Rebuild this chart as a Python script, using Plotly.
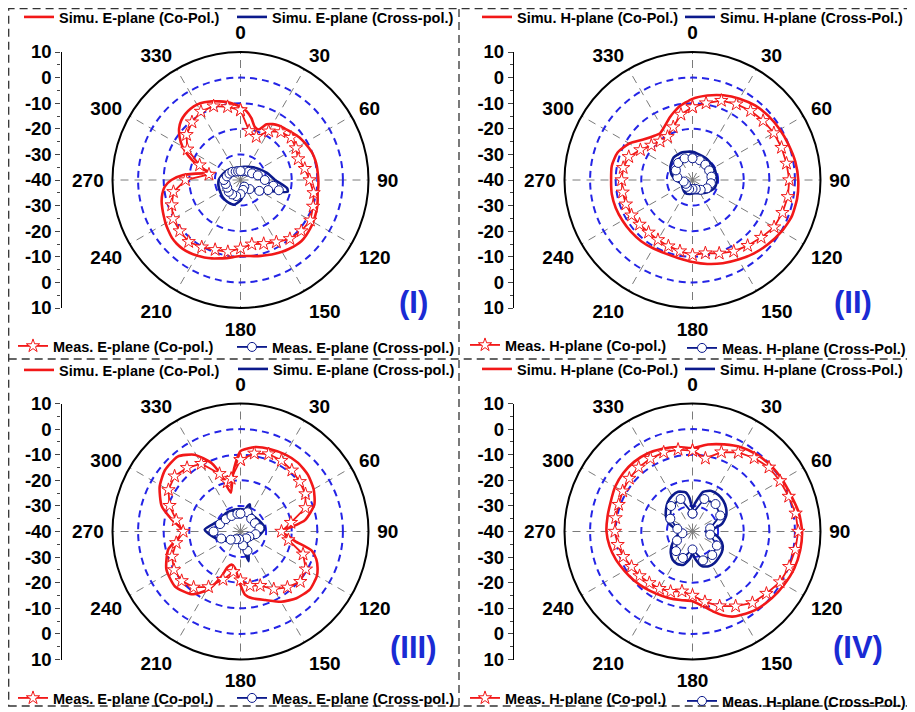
import plotly.graph_objects as go

# window is 915x712; the page body has an 8px margin, so the figure is 907x704 and
# all layout positions below are given in window pixels and shifted by OFF.
WIN_W, WIN_H = 915, 712
OFF = 8
W, H = WIN_W - OFF, WIN_H - OFF
FONT = "Liberation Sans, Arial, Helvetica, sans-serif"
RED = "#f21818"
NAVY = "#0c1a8c"
GRIDBLUE = "#2424e6"
GRAY = "#7a7a7a"
LABELBLUE = "#1a2bd4"

ANGLE_TICKS = list(range(0, 360, 30))
ANGLE_LABELS = [str(a) for a in ANGLE_TICKS]
RADIAL_RANGE = [-40, 10]
RADIAL_GRID = [-30, -20, -10, 0]
LEFT_TICKVALS = list(range(-50, 51, 10))
LEFT_TICKTEXT = [str(abs(v) - 40) for v in LEFT_TICKVALS]

# ---------------- Panel I : E-plane ----------------
P1_SIM_CO = [(0,-11.4),(5,-13),(10,-15.5),(15,-18.5),(20,-19),(25,-16),(30,-14.8),(35,-14),(40,-13.5),
             (45,-13),(50,-12.3),(55,-11.5),(60,-11),(65,-10.5),(70,-10),(75,-9.8),(80,-9.7),(85,-9.7),
             (90,-9.6),(95,-9.5),(100,-9.4),(105,-8.8),(110,-8.2),(115,-7.7),(120,-7.2),(125,-6.8),
             (130,-6.5),(135,-6.3),(140,-6.6),(145,-7.1),(150,-7.6),(155,-8.2),(160,-8.8),(165,-9.3),
             (170,-9.8),(175,-10.2),(180,-10.3),(185,-9.8),(190,-9),(195,-8.3),(200,-7.4),(205,-6.6),
             (210,-5.9),(215,-5.3),(220,-4.9),(225,-4.8),(230,-5),(235,-5.6),(240,-6.2),(245,-6.9),
             (250,-7.5),(255,-8.1),(260,-9),(265,-10.3),(270,-13),(275,-17.5),(280,-25),(283,-28.5),
             (286,-25.5),(290,-21.5),(295,-17.5),(300,-13.8),(305,-11),(310,-8.7),(315,-7.2),(320,-6.4),
             (325,-6),(330,-6),(335,-6.5),(340,-7.3),(345,-8.2),(350,-9.1),(355,-10.2),(360,-11.4)]
P1_SIM_X = [(0,-35),(15,-34.7),(30,-34),(45,-33),(60,-31.5),(75,-29.3),(90,-26.5),(100,-21.5),(104,-21),
            (108,-25.5),(120,-32),(135,-34.5),(150,-35.5),(165,-34.5),(180,-32),(195,-30),(210,-30),
            (225,-30.3),(240,-30.8),(255,-31.1),(270,-31.5),(285,-32.5),(300,-33.3),(315,-34),(330,-34.8),
            (345,-35),(360,-35)]
P1_MEAS_CO = [(0,-12.7),(10,-20.5),(20,-22),(30,-18),(40,-15.5),(50,-14.2),(60,-15),(70,-16),(80,-14.5),
              (90,-13),(100,-11),(110,-9.8),(120,-8.5),(130,-9),(140,-10),(150,-12),(160,-13.5),(170,-14.5),
              (180,-13.3),(190,-11.5),(200,-11),(210,-9.7),(220,-8.5),(230,-9),(240,-9.6),(250,-11.4),
              (260,-13.4),(270,-18.5),(280,-27.5),(290,-23),(300,-16),(310,-12.5),(320,-10.5),(330,-9.1),
              (340,-9.3),(350,-11),(360,-12.7)]
P1_MEAS_X = [(0,-36.5),(15,-36.5),(30,-36),(45,-35.5),(60,-34.8),(75,-33),(90,-30.5),(100,-27),(105,-24.5),
             (110,-28.5),(120,-31.5),(135,-35),(150,-37),(165,-36),(180,-34.5),(195,-33.5),(210,-33.5),
             (225,-33.5),(240,-34),(255,-34),(270,-33.5),(285,-34.5),(300,-35),(315,-35.5),(330,-36.2),
             (345,-36.5),(360,-36.5)]

# ---------------- Panel II : H-plane ----------------
P2_SIM_CO = [(0,-8.3),(10,-6.5),(20,-4.8),(30,-3.3),(40,-2),(50,-1.2),(60,-0.6),(70,0),(80,0.8),(90,1.3),
             (100,1.5),(110,1.3),(120,0.2),(130,-1.2),(140,-2.6),(150,-4.1),(160,-5.4),(170,-6.7),(180,-8),
             (190,-9),(200,-9.4),(210,-9.2),(220,-8.8),(230,-8.6),(240,-8.4),(250,-8.1),(260,-8),(270,-8.2),
             (280,-8),(290,-8.8),(300,-11.5),(310,-15.3),(320,-17.3),(325,-17.8),(330,-17),(340,-14),
             (345,-12.4),(350,-10.8),(360,-8.3)]
P2_SIM_X = [(0,-29),(30,-30),(60,-30.3),(90,-30.4),(110,-30.8),(130,-32.5),(150,-34),(170,-34.8),(190,-34.5),
            (210,-34.2),(230,-35),(250,-35.5),(270,-33.5),(285,-31.5),(300,-30),(320,-28.5),(340,-28.5),
            (360,-29)]
P2_MEAS_CO = [(0,-11.5),(10,-9.5),(20,-7),(30,-5.8),(40,-4.7),(50,-4),(60,-3.3),(70,-3),(80,-2.7),(90,-2.2),
              (100,-2.2),(110,-2.6),(120,-3.2),(130,-5),(140,-6.5),(150,-7.8),(160,-9.5),(170,-11),(180,-10.7),
              (190,-11.8),(200,-12.5),(210,-13),(220,-13.3),(230,-13),(240,-12.5),(250,-12.3),(260,-12.3),
              (270,-12.3),(280,-12.5),(290,-13.5),(300,-16.5),(310,-19),(320,-20.3),(330,-20.5),(340,-18),
              (350,-14),(360,-11.5)]
P2_MEAS_X = [(0,-31.5),(20,-31.8),(40,-32.2),(60,-32.5),(80,-32.5),(100,-32.7),(120,-33.5),(140,-35),
             (160,-36.3),(180,-36.5),(200,-36.2),(220,-36.5),(240,-37),(260,-36.5),(280,-34),(300,-32.5),
             (320,-31.3),(340,-31),(360,-31.5)]

# ---------------- Panel III : E-plane ----------------
P3_SIM_CO = [(0,-8.6),(10,-6.5),(20,-5.8),(30,-5.2),(40,-5),(50,-5.6),(60,-7),(70,-9.3),(80,-14.4),(85,-20),
             (90,-24.5),(95,-21.5),(100,-18.4),(105,-11.2),(110,-8.5),(115,-6.8),(120,-5.5),(130,-4.7),
             (140,-6),(150,-8.3),(160,-11.5),(170,-13.5),(176,-15.3),(181,-20),(189,-25.7),(195,-26.6),
             (200,-25.2),(203,-21),(209,-14),(218,-8.9),(230,-6.6),(243,-7.5),(256,-10.9),(264,-15.5),
             (270,-17.6),(275,-15.8),(280,-12.7),(288,-7.6),(299,-3.9),(309,-2),(320,-1.8),(329,-5),
             (337,-10.9),(341,-16.5),(346,-24.4),(352,-18),(356,-13),(360,-8.6)]
P3_SIM_X = [(0,-31.2),(11,-31.3),(16,-29.5),(19,-28.8),(23,-30.5),(33,-32),(56,-31.7),(81,-30.4),(105,-32.8),
            (130,-35.2),(152,-35),(160,-31),(165,-28),(170,-33),(180,-36),(200,-36),(232,-33.9),(256,-29.7),
            (273,-26),(295,-30.4),(323,-30.9),(346,-31.1),(360,-31.2)]
P3_MEAS_CO = [(0,-12),(10,-9),(20,-7.8),(30,-8),(40,-8.8),(50,-9.8),(60,-10.7),(70,-13),(80,-20),(90,-24),
              (100,-21),(110,-14),(120,-10.5),(130,-9.5),(140,-11.5),(150,-14),(160,-17.5),(170,-18.5),
              (180,-21),(190,-24),(200,-20),(210,-15),(220,-11.5),(230,-10),(240,-10),(250,-11.5),(260,-14.5),
              (270,-17.6),(280,-14.5),(290,-10.5),(300,-7.5),(310,-6.4),(320,-7.5),(330,-9.4),(340,-16),
              (345,-20),(350,-19),(360,-12)]
P3_MEAS_X = [(0,-33),(20,-32),(40,-33.5),(60,-33.5),(80,-32.5),(100,-34),(120,-36),(140,-36.5),(160,-32),
             (170,-34.5),(190,-37),(210,-36.5),(230,-35),(250,-32),(270,-29.5),(290,-31.5),(310,-32.5),
             (330,-33),(350,-33),(360,-33)]

# ---------------- Panel IV : H-plane ----------------
P4_SIM_CO = [(0,-7.4),(10,-5.5),(20,-3.8),(30,-2),(40,-0.8),(50,0),(60,0.5),(70,1),(80,2.2),(90,2.8),
             (100,2.7),(110,2.3),(120,1.4),(130,0.5),(140,-0.6),(150,-2.3),(155,-3.3),(160,-5.2),(165,-7.5),
             (170,-9.8),(175,-11.5),(180,-12.8),(190,-12.8),(200,-12.4),(210,-11.9),(220,-11.1),(230,-10.2),
             (240,-9.3),(250,-8.1),(260,-7.1),(270,-6.4),(280,-6.3),(290,-6),(300,-5.1),(310,-4.6),(320,-4.5),
             (330,-4.8),(340,-5.6),(350,-6.5),(360,-7.4)]
P4_SIM_X = [(0,-31),(5,-29),(15,-24),(25,-22.5),(35,-22.5),(45,-23),(55,-24),(65,-25.5),(75,-28),(85,-33),
            (90,-35),(95,-32),(105,-29),(115,-27),(125,-26),(135,-25.5),(145,-25),(155,-25),(165,-26),
            (175,-29.5),(180,-31.5),(185,-29.5),(195,-26.5),(205,-26),(215,-26.5),(225,-28),(235,-30),
            (250,-33),(265,-35),(270,-35.5),(280,-33),(290,-30),(300,-28),(310,-26.5),(320,-25),(330,-24),
            (340,-23.5),(350,-24.5),(355,-27),(360,-31)]
P4_MEAS_CO = [(0,-8.4),(10,-11),(20,-7),(30,-4.3),(40,-2.5),(50,-1),(60,-0.5),(70,0),(80,0.9),(90,1.3),
              (100,0.8),(110,0.2),(120,-0.5),(130,-2.3),(140,-3.6),(150,-6.3),(160,-9),(170,-12.1),(180,-15),
              (190,-16.3),(200,-15),(210,-14.2),(220,-13.8),(230,-13),(240,-12.5),(250,-11.2),(260,-10.3),
              (270,-9.7),(280,-9.5),(290,-9.3),(300,-8.5),(310,-7.8),(320,-7.3),(330,-7.1),(340,-7.1),
              (350,-7.5),(360,-8.4)]
P4_MEAS_X = [(0,-33),(20,-26.5),(40,-26),(60,-27.5),(80,-33),(100,-33),(120,-29),(140,-28),(160,-28),
             (180,-33),(200,-29),(220,-30),(240,-33),(260,-36),(280,-34),(300,-30),(320,-27),(340,-26.5),
             (360,-33)]

E_NAMES = ["Simu. E-plane (Co-Pol.)", "Simu. E-plane (Cross-pol.)",
           "Meas. E-plane (Co-pol.)", "Meas. E-plane (Cross-pol.)"]
H_NAMES = ["Simu. H-plane (Co-Pol.)", "Simu. H-plane (Cross-Pol.)",
           "Meas. H-plane (Co-pol.)", "Meas. H-plane (Cross-Pol.)"]
PANEL_LABELS = ["(I)", "(II)", "(III)", "(IV)"]

# geometry in window pixels (layout only); leg = legend sample start (x, y) for the 4 series
R = 128
PANELS = [
    dict(data=(P1_SIM_CO, P1_SIM_X, P1_MEAS_CO, P1_MEAS_X), names=E_NAMES, cx=240.5, cy=180, axx=61.5,
         lab=(413, 303), leg=[(27, 17), (240, 17), (21, 346), (240, 347)]),
    dict(data=(P2_SIM_CO, P2_SIM_X, P2_MEAS_CO, P2_MEAS_X), names=H_NAMES, cx=692.5, cy=180, axx=514,
         lab=(853, 303), leg=[(485, 17), (688, 17), (473, 345), (690, 348)]),
    dict(data=(P3_SIM_CO, P3_SIM_X, P3_MEAS_CO, P3_MEAS_X), names=E_NAMES, cx=240.5, cy=531.5, axx=61.5,
         lab=(413, 647), leg=[(27, 370), (241, 369), (21, 698), (240, 698)]),
    dict(data=(P4_SIM_CO, P4_SIM_X, P4_MEAS_CO, P4_MEAS_X), names=H_NAMES, cx=692.5, cy=531.5, axx=514,
         lab=(858, 647), leg=[(485, 369), (688, 369), (473, 698), (690, 701)]),
]


def fx(x):
    return (x - OFF) / W


def fy(y):
    return 1 - (y - OFF) / H


def th(d):
    return [a for a, _ in d]


def rr(d):
    return [v for _, v in d]


fig = go.Figure()
layout = dict(width=W, height=H, margin=dict(l=0, r=0, t=0, b=0, autoexpand=False), paper_bgcolor="white",
              plot_bgcolor="white", font=dict(family=FONT, color="black"), annotations=[], shapes=[])

for i, p in enumerate(PANELS):
    n = i + 1
    pk = "polar" if n == 1 else f"polar{n}"
    lkeys = []
    for j in range(4):
        k = 4 * i + j + 1
        lkeys.append("legend" if k == 1 else f"legend{k}")
    sim_co, sim_x, meas_co, meas_x = p["data"]
    names = p["names"]

    fig.add_trace(go.Scatterpolar(theta=th(sim_co), r=rr(sim_co), mode="lines", name=names[0],
                                  line=dict(color=RED, width=2.6, shape="spline", smoothing=0.6),
                                  subplot=pk, legend=lkeys[0]))
    fig.add_trace(go.Scatterpolar(theta=th(sim_x), r=rr(sim_x), mode="lines", name=names[1],
                                  line=dict(color=NAVY, width=2.6, shape="spline", smoothing=0.6),
                                  subplot=pk, legend=lkeys[1]))
    fig.add_trace(go.Scatterpolar(theta=th(meas_co), r=rr(meas_co), mode="lines+markers", name=names[2],
                                  line=dict(color=RED, width=1.8),
                                  marker=dict(symbol="star", size=10, color="white",
                                              line=dict(color=RED, width=1)),
                                  subplot=pk, legend=lkeys[2]))
    fig.add_trace(go.Scatterpolar(theta=th(meas_x), r=rr(meas_x), mode="lines+markers", name=names[3],
                                  line=dict(color=NAVY, width=1.8),
                                  marker=dict(symbol="circle", size=9, color="white",
                                              line=dict(color=NAVY, width=1)),
                                  subplot=pk, legend=lkeys[3]))

    layout[pk] = dict(
        domain=dict(x=[fx(p["cx"] - R), fx(p["cx"] + R)], y=[fy(p["cy"] + R), fy(p["cy"] - R)]),
        bgcolor="white",
        radialaxis=dict(range=RADIAL_RANGE, tickmode="array", tickvals=RADIAL_GRID, showticklabels=False,
                        ticks="", showline=False, gridcolor=GRIDBLUE, griddash="7px,5px", gridwidth=1.6),
        angularaxis=dict(rotation=90, direction="clockwise", tickmode="array", tickvals=ANGLE_TICKS,
                         ticktext=ANGLE_LABELS, showline=True, linecolor="black", linewidth=2,
                         gridcolor=GRAY, griddash="8px,6px", gridwidth=1.4, ticks="outside", ticklen=4,
                         tickcolor="rgba(0,0,0,0)",
                         tickfont=dict(family=FONT, size=19, color="black", weight="bold")),
    )

    # left-hand dB scale (an invisible trace carries the subplot so the axis is drawn)
    xk = "xaxis" if n == 1 else f"xaxis{n}"
    yk = "yaxis" if n == 1 else f"yaxis{n}"
    xa = "x" if n == 1 else f"x{n}"
    ya = "y" if n == 1 else f"y{n}"
    fig.add_trace(go.Scatter(x=[0.5] * len(LEFT_TICKVALS), y=LEFT_TICKVALS, mode="markers",
                             marker=dict(opacity=0), showlegend=False, hoverinfo="skip",
                             xaxis=xa, yaxis=ya))
    layout[xk] = dict(domain=[fx(p["axx"]), fx(p["axx"] + 1)], visible=False, anchor=ya, range=[0, 1],
                      fixedrange=True)
    layout[yk] = dict(domain=[fy(p["cy"] + R), fy(p["cy"] - R)], anchor=xa, range=[-50, 50],
                      tickmode="array", tickvals=LEFT_TICKVALS, ticktext=LEFT_TICKTEXT, ticks="outside",
                      ticklen=5, tickwidth=1.3, showline=True, linecolor="black", linewidth=1.3,
                      showgrid=False, zeroline=False, fixedrange=True,
                      minor=dict(tickmode="linear", dtick=5, ticks="outside", ticklen=3, tickwidth=1.1,
                                 showgrid=False),
                      tickfont=dict(family=FONT, size=18.5, color="black", weight="bold"))

    # one legend per series, placed where the reference shows it
    for key, (lx, ly) in zip(lkeys, p["leg"]):
        layout[key] = dict(orientation="h", x=fx(lx - 8), y=fy(ly), xanchor="left", yanchor="middle",
                           bgcolor="rgba(0,0,0,0)", borderwidth=0, itemwidth=30, tracegroupgap=0,
                           font=dict(family=FONT, size=14.5, color="black", weight="bold"))

    layout["annotations"].append(dict(text=PANEL_LABELS[i], x=fx(p["lab"][0]), y=fy(p["lab"][1]),
                                      xref="paper", yref="paper", xanchor="center", yanchor="middle",
                                      showarrow=False,
                                      font=dict(family=FONT, size=31, color=LABELBLUE, weight="bold")))

# dashed panel frames
dash = dict(color="#333333", width=1.3, dash="8px,5px")
layout["shapes"] += [
    dict(type="rect", xref="paper", yref="paper", x0=fx(8.7), x1=fx(911), y0=fy(706), y1=fy(8.7), line=dash),
    dict(type="line", xref="paper", yref="paper", x0=fx(459), x1=fx(459), y0=fy(706), y1=fy(8.7), line=dash),
    dict(type="line", xref="paper", yref="paper", x0=fx(8.7), x1=fx(911), y0=fy(359), y1=fy(359), line=dash),
]

fig.update_layout(**layout)
fig.write_html("out.html")
